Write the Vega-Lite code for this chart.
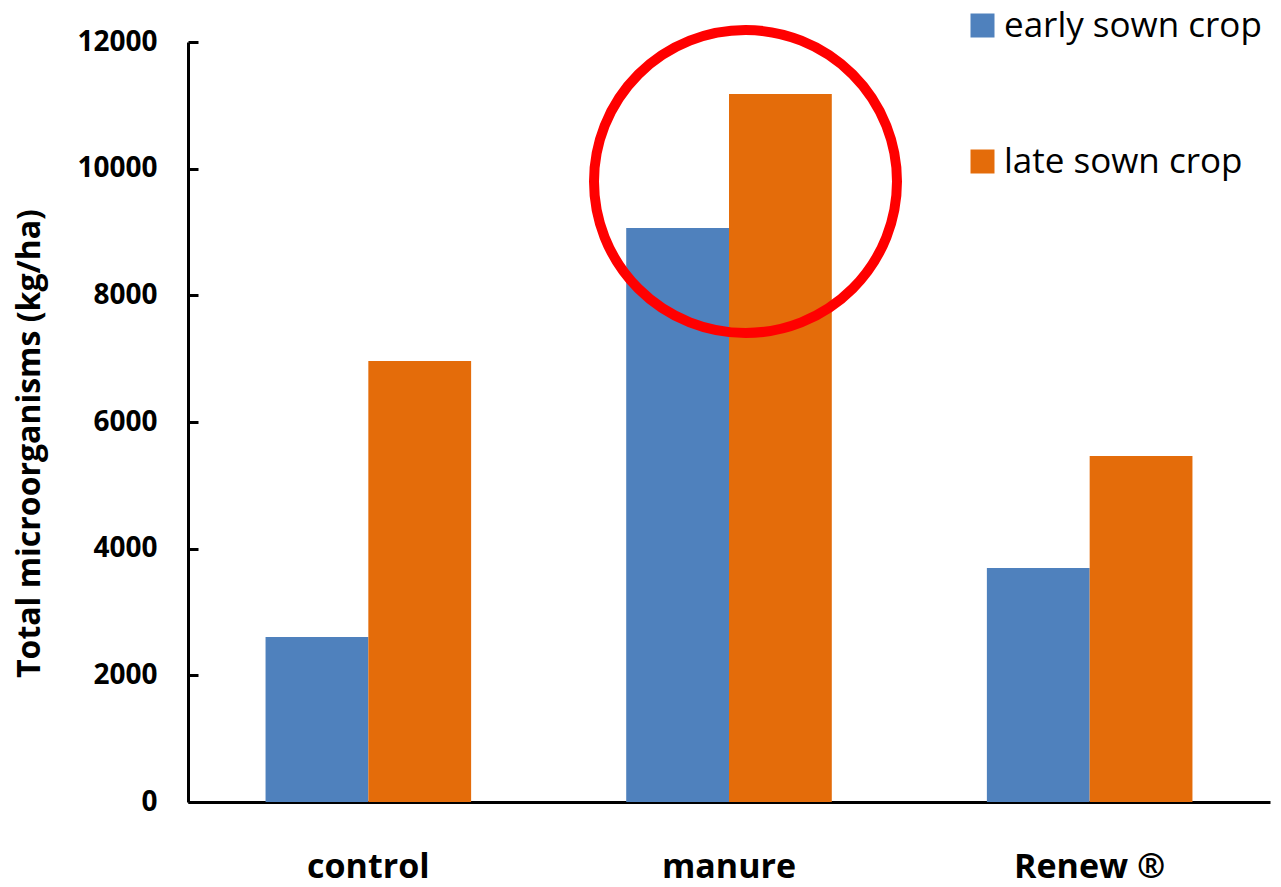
{
  "$schema": "https://vega.github.io/schema/vega-lite/v6.json",
  "width": 1082,
  "height": 760,
  "autosize": {"type": "none"},
  "padding": {"left": 188, "top": 42, "right": 11, "bottom": 85},
  "background": "white",
  "config": {
    "font": "Open Sans",
    "view": {"stroke": null},
    "axis": {"grid": false, "domainColor": "black", "domainWidth": 3, "tickColor": "black", "tickWidth": 3, "labelColor": "black", "titleColor": "black"}
  },
  "datasets": {
    "bars": [
      {"treatment": "control", "crop": "early sown crop", "value": 2605},
      {"treatment": "control", "crop": "late sown crop", "value": 6965},
      {"treatment": "manure", "crop": "early sown crop", "value": 9065},
      {"treatment": "manure", "crop": "late sown crop", "value": 11180},
      {"treatment": "Renew ®", "crop": "early sown crop", "value": 3695},
      {"treatment": "Renew ®", "crop": "late sown crop", "value": 5465}
    ],
    "highlight": [
      {"treatment": "manure", "value": 9797}
    ]
  },
  "layer": [
    {
      "data": {"name": "bars"},
      "mark": {"type": "bar"},
      "encoding": {
        "x": {
          "field": "treatment", "type": "nominal", "sort": null,
          "scale": {"paddingInner": 0.43, "paddingOuter": 0.215},
          "axis": {"title": null, "labelAngle": 0, "ticks": false, "labelFontSize": 34, "labelFontWeight": "bold", "labelPadding": 75, "labelBaseline": "alphabetic"}
        },
        "xOffset": {"field": "crop", "type": "nominal", "scale": {"paddingInner": 0, "paddingOuter": 0}},
        "y": {
          "field": "value", "type": "quantitative",
          "scale": {"domain": [0, 12000], "nice": false},
          "axis": {"title": "Total microorganisms (kg/ha)", "values": [0, 2000, 4000, 6000, 8000, 10000, 12000], "format": "d", "tickSize": -10, "labelPadding": 41, "labelFontSize": 28, "labelFontWeight": "bold", "titleFontSize": 32, "titleFontWeight": "bold", "titlePadding": 30, "titleY": 401}
        },
        "color": {
          "field": "crop", "type": "nominal",
          "scale": {"domain": ["early sown crop", "late sown crop"], "range": ["#4F81BD", "#E46C0A"]},
          "legend": {"title": null, "orient": "none", "legendX": 777, "legendY": -34, "symbolType": "square", "symbolSize": 576, "symbolStrokeWidth": 0, "labelFontSize": 35, "labelColor": "black", "labelOffset": 4, "labelLimit": 0, "rowPadding": 100, "padding": 0}
        }
      }
    },
    {
      "data": {"name": "highlight"},
      "mark": {"type": "point", "shape": "circle", "filled": false, "stroke": "#FF0000", "strokeWidth": 10, "size": 91800, "xOffset": 16.5, "opacity": 1},
      "encoding": {
        "x": {"field": "treatment", "type": "nominal", "sort": null},
        "y": {"field": "value", "type": "quantitative"}
      }
    }
  ]
}
